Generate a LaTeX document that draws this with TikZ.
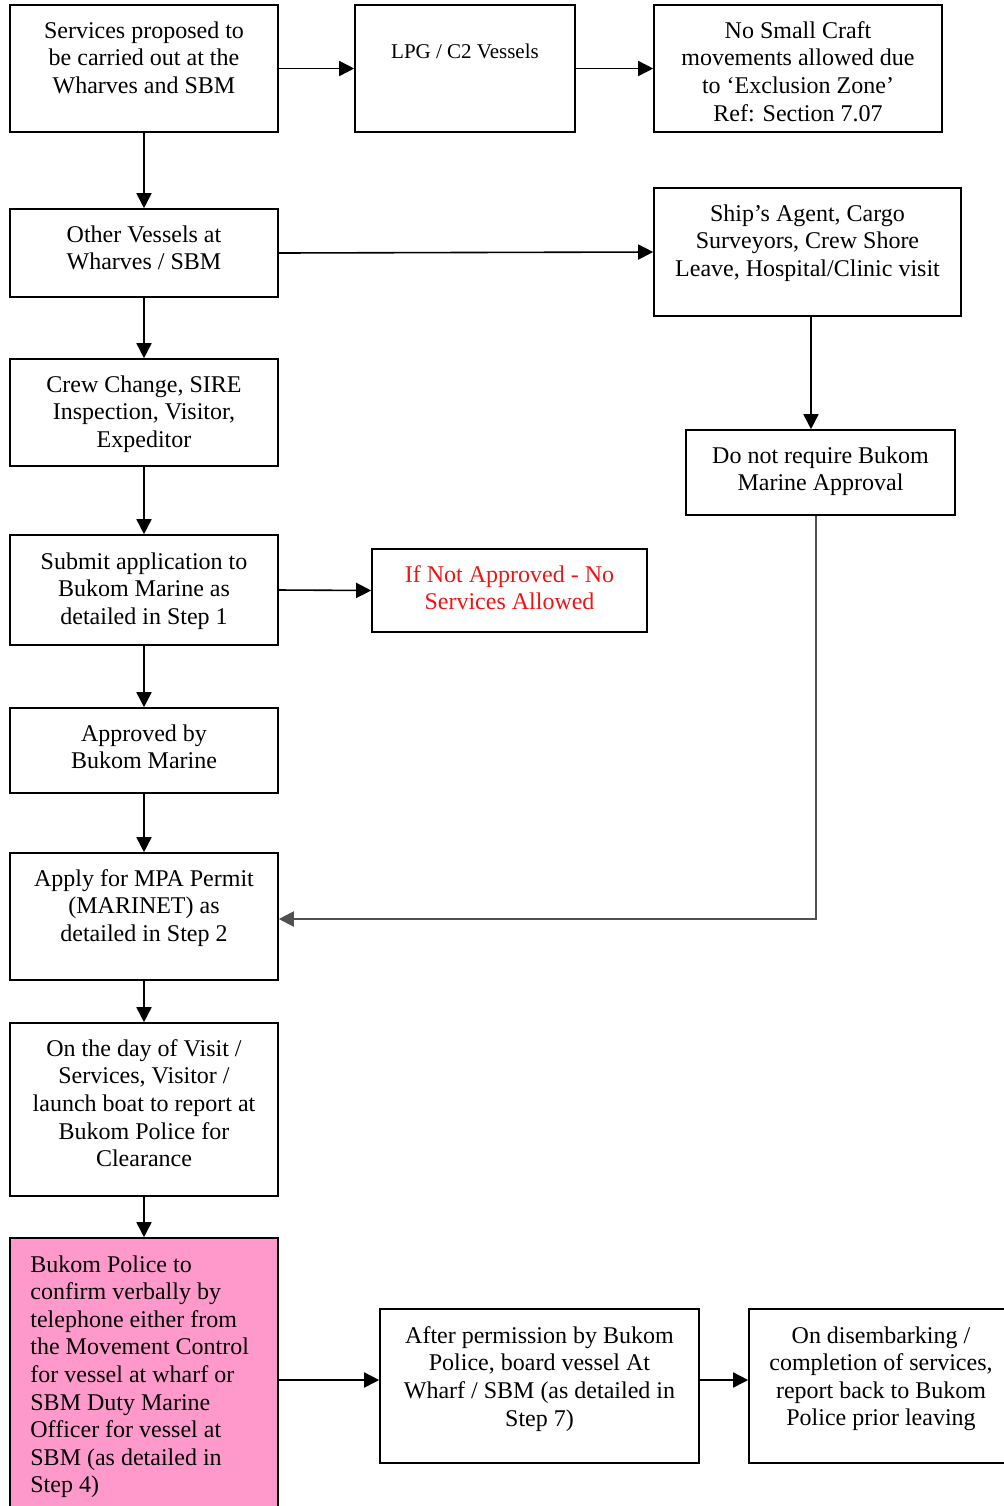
\documentclass[tikz,border=0pt]{standalone}
\usepackage{fontspec}
\setmainfont{Liberation Serif}
\usetikzlibrary{arrows.meta}
\definecolor{pinkfill}{RGB}{255,153,204}
\definecolor{redtext}{RGB}{240,20,20}
\definecolor{grayline}{RGB}{80,80,80}
\tikzset{
  box/.style={draw=black, line width=0.8pt, rectangle, inner sep=0pt},
  txt/.style={anchor=north, inner sep=0pt, align=center, font=\fontsize{12}{13.8}\selectfont},
  conn/.style={line width=0.8pt, -{Triangle[length=7.5pt,width=7.5pt]}},
}
\begin{document}
\begin{tikzpicture}[x=0.5pt, y=-0.5pt]
\useasboundingbox (0,0) rectangle (1003,1506);
% boxes
\node[box, minimum width=134pt, minimum height=63.5pt] (services) at (144,68.5) {};
\node[box, minimum width=110pt, minimum height=63.5pt] (lpg) at (465,68.5) {};
\node[box, minimum width=144pt, minimum height=63.5pt] (nosmall) at (798,68.5) {};
\node[box, minimum width=134pt, minimum height=44pt] (other) at (144,253) {};
\node[box, minimum width=153.5pt, minimum height=64pt] (agent) at (807.5,252) {};
\node[box, minimum width=134pt, minimum height=53.5pt] (crew) at (144,412.5) {};
\node[box, minimum width=134.5pt, minimum height=42.5pt] (donot) at (820.5,472.5) {};
\node[box, minimum width=134pt, minimum height=55pt] (submit) at (144,590) {};
\node[box, minimum width=137.5pt, minimum height=41.5pt] (ifnot) at (509.5,590.5) {};
\node[box, minimum width=134pt, minimum height=42.5pt] (approved) at (144,750.5) {};
\node[box, minimum width=134pt, minimum height=63.5pt] (apply) at (144,916.5) {};
\node[box, minimum width=134pt, minimum height=86.5pt] (day) at (144,1109.5) {};
\node[box, fill=pinkfill, minimum width=134pt, minimum height=146pt] (pink) at (144,1384) {};
\node[box, minimum width=159.5pt, minimum height=77pt] (after) at (539.5,1386) {};
\node[box, minimum width=132pt, minimum height=77pt] (disemb) at (881,1386) {};
% texts
\node[txt] (t1) at (144,21) {Services proposed to\\be carried out at the\\Wharves and SBM};
\node[txt, font=\fontsize{10.5}{12}\selectfont] (t2) at (465,44) {LPG / C2 Vessels};
\node[txt] (t3) at (798,21) {No Small Craft\\movements allowed due\\to ‘Exclusion Zone’\\Ref: Section 7.07};
\node[txt] (t4) at (144,225) {Other Vessels at\\Wharves / SBM};
\node[txt] (t5) at (807.5,204) {Ship’s Agent, Cargo\\Surveyors, Crew Shore\\Leave, Hospital/Clinic visit};
\node[txt] (t6) at (144,375) {Crew Change, SIRE\\Inspection, Visitor,\\Expeditor};
\node[txt] (t7) at (820.5,446) {Do not require Bukom\\Marine Approval};
\node[txt] (t8) at (144,552) {Submit application to\\Bukom Marine as\\detailed in Step 1};
\node[txt, text=redtext] (t9) at (509.5,565) {If Not Approved - No\\Services Allowed};
\node[txt] (t10) at (144,724) {Approved by\\Bukom Marine};
\node[txt] (t11) at (144,869) {Apply for MPA Permit\\(MARINET) as\\detailed in Step 2};
\node[txt] (t12) at (144,1039) {On the day of Visit /\\Services, Visitor /\\launch boat to report at\\Bukom Police for\\Clearance};
\node[txt, anchor=north west, align=left] (t13) at (30,1255) {Bukom Police to\\confirm verbally by\\telephone either from\\the Movement Control\\for vessel at wharf or\\SBM Duty Marine\\Officer for vessel at\\SBM (as detailed in\\Step 4)};
\node[txt] (t14) at (539.5,1326) {After permission by Bukom\\Police, board vessel At\\Wharf / SBM (as detailed in\\Step 7)};
\node[txt] (t15) at (881,1326) {On disembarking /\\completion of services,\\report back to Bukom\\Police prior leaving};
% connectors
\draw[conn] (services.east) -- (lpg.west);
\draw[conn] (lpg.east) -- (nosmall.west);
\draw[conn] (services.south) -- (other.north);
\draw[conn] (other.east) -- (agent.west);
\draw[conn] (agent.south -| 811,0) -- (donot.north -| 811,0);
\draw[conn] (other.south) -- (crew.north);
\draw[conn] (crew.south) -- (submit.north);
\draw[conn] (submit.east) -- (ifnot.west);
\draw[conn] (submit.south) -- (approved.north);
\draw[conn] (approved.south) -- (apply.north);
\draw[conn, draw=grayline, line width=1pt] (donot.south -| 816,0) |- (apply.east |- 0,919);
\draw[conn] (apply.south) -- (day.north);
\draw[conn] (day.south) -- (pink.north);
\draw[conn] (pink.east |- 0,1380) -- (after.west |- 0,1380);
\draw[conn] (after.east |- 0,1380) -- (disemb.west |- 0,1380);
\end{tikzpicture}
\end{document}
